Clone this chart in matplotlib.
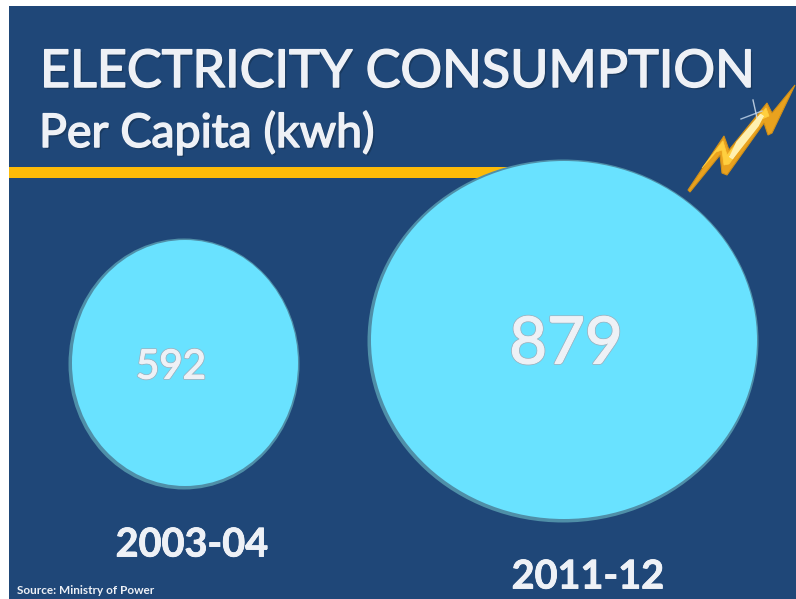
import matplotlib
matplotlib.use('Agg')
import matplotlib.pyplot as plt
import matplotlib.patheffects as pe
from matplotlib.patches import Ellipse, Polygon, Rectangle

years = ['2003-04', '2011-12']
per_capita = [592, 879]

# layout in pixels of the slide
centers = [(184, 364), (563, 341)]
widths = [226, 386]
heights = [246, 358]
value_sizes = [29, 47]
value_x = [171, 566]
value_y = [367, 345]
year_x = [192, 588]
year_y = [545, 577]

navy = '#1F4778'
cyan = '#69E2FF'
text_col = '#EEF1F6'
plt.rcParams['font.family'] = ['Lato', 'DejaVu Sans']

fig = plt.figure(figsize=(7.96, 5.99), dpi=100, facecolor='white')
ax = fig.add_axes([0, 0, 1, 1])
ax.set_xlim(0, 796)
ax.set_ylim(599, 0)
ax.axis('off')

ax.add_patch(Rectangle((9, 6), 787, 593, color=navy, lw=0, zorder=0))
ax.add_patch(Rectangle((9, 167), 500, 11, color='#FDBB08', lw=0, zorder=1))

# lato regular is too thin and bold too wide, so thicken with a stroke
heavy = [pe.withSimplePatchShadow(offset=(1.5, -1.5), shadow_rgbFace='#15304f', alpha=0.6),
         pe.withStroke(linewidth=1.1, foreground=text_col), pe.Normal()]
heavy_year = [pe.withStroke(linewidth=0.6, foreground=text_col), pe.Normal()]

ax.text(40, 87, 'ELECTRICITY CONSUMPTION', fontsize=37.5, color=text_col,
        ha='left', va='baseline', path_effects=heavy, zorder=5)
ax.text(39, 147, 'Per Capita (kwh)', fontsize=33.5, color=text_col,
        ha='left', va='baseline', path_effects=heavy, zorder=5)

for i in range(len(per_capita)):
    ax.add_patch(Ellipse(centers[i], widths[i] + 5, heights[i] + 5, fc='#4F8FA8', ec='none', zorder=2))
    ax.add_patch(Ellipse((centers[i][0] + 1, centers[i][1] - 1), widths[i], heights[i], fc=cyan, ec='none', zorder=3))
    ax.text(value_x[i], value_y[i], str(per_capita[i]), fontsize=value_sizes[i], color=text_col,
            ha='center', va='center', zorder=5,
            path_effects=[pe.withStroke(linewidth=2, foreground='#9DB4C2'),
                          pe.withStroke(linewidth=0.8, foreground=text_col), pe.Normal()])
    ax.text(year_x[i], year_y[i], years[i], fontsize=28.5, color=text_col, weight='bold',
            ha='center', va='center', path_effects=heavy_year, zorder=5)

ax.text(17, 590, 'Source: Ministry of Power', fontsize=8.5, color=text_col, weight='bold',
        ha='left', va='center', zorder=5)

# lightning bolt
bolt_outer = [(688, 190), (724, 136), (729, 150), (767, 103), (772, 113), (795, 85),
              (772, 133), (768, 135), (764, 123), (727, 175), (722, 173), (720, 155), (690, 192)]
bolt_yellow = [(702, 168), (723, 141), (727, 155), (766, 108), (769, 116), (762, 119),
               (729, 164), (724, 165), (722, 150), (716, 152)]
bolt_light = [(731, 158), (757, 125), (762, 115), (738, 143)]
ax.add_patch(Polygon(bolt_outer, closed=True, fc='#E9A21E', ec='#D08F18', lw=0.8, zorder=4))
ax.add_patch(Polygon(bolt_yellow, closed=True, fc='#FFCF3F', ec='#FFCF3F', lw=0.5, zorder=4))
ax.add_patch(Polygon(bolt_light, closed=True, fc='#FFF0B0', ec='#FFF0B0', lw=3, zorder=4))
ax.plot([741, 762], [119, 111], color='#C6DAEE', lw=1, alpha=0.8, zorder=5)
ax.plot([753, 757], [100, 118], color='#DCE8F5', lw=1, alpha=0.8, zorder=5)

fig.savefig('out.png', dpi=100, facecolor='white')
